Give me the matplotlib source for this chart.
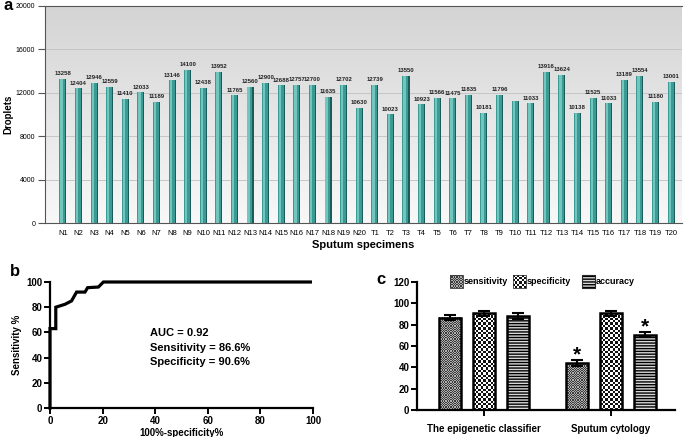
import matplotlib.pyplot as plt
import numpy as np
from matplotlib.colors import LinearSegmentedColormap, ListedColormap

plt.rcParams['font.family'] = ['Liberation Sans', 'DejaVu Sans']

# ---- data ----
specimens = ['N%d' % i for i in range(1, 21)] + ['T%d' % i for i in range(1, 21)]
droplets = [13258, 12404, 12946, 12559, 11410, 12033, 11189, 13146, 14100, 12438,
            13952, 11765, 12560, 12900, 12688, 12757, 12700, 11635, 12702, 10630,
            12739, 10023, 13550, 10923, 11566, 11475, 11835, 10181, 11796, 11250,
            11033, 13916, 13624, 10138, 11525, 11033, 13189, 13554, 11180, 13001]
bar_labels = [str(v) for v in droplets]
bar_labels[29] = ''  # T10 has no printed value

fpr = [0, 0, 2.2, 2.2, 5.7, 8.2, 10.1, 13.3, 14.3, 18.4, 20.3, 99]
tpr = [0, 63, 63, 80, 82.3, 85, 92, 92, 95.5, 96, 100, 100]
roc_text = ['AUC = 0.92', 'Sensitivity = 86.6%', 'Specificity = 90.6%']

groups = ['The epigenetic classifier', 'Sputum cytology']
metrics = ['sensitivity', 'specificity', 'accuracy']
sensitivity = [86.6, 44.0]
specificity = [90.6, 90.6]
accuracy = [88.0, 70.5]
err = [2.5, 2.5]
significant = [[False, False, False], [True, False, True]]

fig = plt.figure(figsize=(6.85, 4.37), dpi=100)

# ---- panel a ----
axa = fig.add_axes([45/685, 1-223/437, 637/685, 217/437])
bg = LinearSegmentedColormap.from_list('bg', ['#d4d4d4', '#f8f8f8'])
axa.imshow(np.linspace(0, 1, 200).reshape(-1, 1), cmap=bg, extent=[0, 1, 0, 1],
           transform=axa.transAxes, aspect='auto', zorder=0)
x = np.arange(len(specimens))
axa.bar(x, droplets, width=0.45, color='#3a9a94', zorder=2)
axa.bar(x - 0.09, droplets, width=0.15, color='#72c6be', zorder=3)
axa.bar(x + 0.19, droplets, width=0.07, color='#1c5c58', zorder=3)
for xi, v, lab in zip(x, droplets, bar_labels):
    axa.text(xi, v + 250, lab, ha='center', va='bottom', fontsize=4.3,
             fontweight='bold', color='#222222', zorder=4)
axa.set_xlim(-1.15, 39.7)
axa.set_ylim(0, 20000)
axa.set_yticks(range(0, 20001, 4000))
axa.set_xticks(x)
axa.set_xticklabels(specimens)
axa.set_xticks([9, 19, 29, 39], minor=True)
axa.tick_params(axis='x', which='major', length=0, labelsize=5.5, pad=5)
axa.tick_params(axis='x', which='minor', length=4, color='#555555')
axa.tick_params(axis='y', labelsize=5, length=5, color='#555555', pad=2)
axa.yaxis.grid(True, color='#c6c6c6', lw=0.7, zorder=1)
axa.xaxis.grid(True, which='minor', color='#c6c6c6', lw=0.7, zorder=1)
axa.set_axisbelow(True)
for s in ['top', 'left', 'bottom']:
    axa.spines[s].set_color('#555555')
axa.spines['right'].set_visible(False)
axa.set_ylabel('Droplets', fontsize=7, fontweight='bold', labelpad=2)
axa.set_xlabel('Sputum specimens', fontsize=8, fontweight='bold', labelpad=2)
fig.text(3/685, 1-6/437, 'a', fontsize=12, fontweight='bold', va='center')

# ---- panel b ----
axb = fig.add_axes([50/685, 1-408/437, 263/685, 126/437])
axb.plot(fpr, tpr, color='black', lw=2.3, clip_on=False, solid_joinstyle='miter')
axb.set_xlim(0, 100)
axb.set_ylim(0, 100)
axb.set_xticks(range(0, 101, 20))
axb.set_yticks(range(0, 101, 20))
for s in ['top', 'right']:
    axb.spines[s].set_visible(False)
for s in ['left', 'bottom']:
    axb.spines[s].set_linewidth(1.6)
axb.tick_params(width=1.4, length=4, labelsize=7, pad=1.5)
for lab in axb.get_xticklabels() + axb.get_yticklabels():
    lab.set_fontweight('bold')
axb.set_xlabel('100%-specificity%', fontsize=7, fontweight='bold', labelpad=2)
axb.set_ylabel('Sensitivity %', fontsize=7, fontweight='bold', labelpad=3)
for i, t in enumerate(roc_text):
    axb.text(38, 59.5 - 11.5 * i, t, fontsize=8, fontweight='bold', va='center')
fig.text(10/685, 1-272/437, 'b', fontsize=12, fontweight='bold', va='center')

# ---- panel c ----
axc = fig.add_axes([417/685, 1-410/437, 258/685, 128/437])
gx = np.arange(len(groups))
offsets = [-0.268, 0, 0.268]
w = 0.18
checker_fine = ListedColormap(['#3a3a3a', '#b0b0b0'])
checker_coarse = ListedColormap(['#111111', '#ffffff'])


def checker(ax, x0, y0, wd, ht, nx, ny, cmap, clip=None):
    grid = (np.add.outer(np.arange(ny), np.arange(nx)) % 2)
    im = ax.imshow(grid, cmap=cmap, extent=[x0, x0 + wd, y0, y0 + ht],
                   aspect='auto', interpolation='nearest', zorder=2, clip_on=False)
    if clip is not None:
        im.set_clip_path(clip)
    return im


series = [sensitivity, specificity, accuracy]
for k, vals in enumerate(series):
    bars = axc.bar(gx + offsets[k], vals, width=w, yerr=err,
                   facecolor='white' if k < 2 else '#d8d8d8',
                   edgecolor='black', lw=1.8, zorder=3,
                   hatch='------' if k == 2 else None,
                   error_kw=dict(ecolor='black', elinewidth=1.5, capsize=4, capthick=1.5, zorder=4))
    for b in bars:
        if k == 0:
            b.set_facecolor('none')
            checker(axc, b.get_x(), 0, b.get_width(), b.get_height(),
                    18, int(b.get_height() / 1.1), checker_fine, clip=b)
        elif k == 1:
            b.set_facecolor('none')
            checker(axc, b.get_x(), 0, b.get_width(), b.get_height(),
                    9, int(b.get_height() / 2.2), checker_coarse, clip=b)
    for gi, v in enumerate(vals):
        if significant[gi][k]:
            axc.text(gx[gi] + offsets[k], v + err[gi] + 5, '*', ha='center',
                     va='center', fontsize=15, fontweight='bold')

axc.set_xlim(-0.528, 1.504)
axc.set_ylim(0, 120)
axc.set_yticks(range(0, 121, 20))
axc.set_xticks(gx)
axc.set_xticklabels(groups)
for s in ['top', 'right']:
    axc.spines[s].set_visible(False)
for s in ['left', 'bottom']:
    axc.spines[s].set_linewidth(1.6)
axc.tick_params(width=1.4, length=4, labelsize=7, pad=1.5)
axc.tick_params(axis='x', pad=6)
for lab in axc.get_xticklabels() + axc.get_yticklabels():
    lab.set_fontweight('bold')

# legend swatches drawn above the plot area
sw_x = [-0.268, 0.228, 0.772]
sw_w, sw_y, sw_h = 0.1, 114.5, 12
for k, name in enumerate(metrics):
    if k == 0:
        checker(axc, sw_x[k], sw_y, sw_w, sw_h, 10, 10, checker_fine)
    elif k == 1:
        checker(axc, sw_x[k], sw_y, sw_w, sw_h, 6, 6, checker_coarse)
    else:
        axc.add_patch(plt.Rectangle((sw_x[k], sw_y), sw_w, sw_h, facecolor='#d8d8d8',
                                    hatch='------', edgecolor='black', lw=0.8, clip_on=False))
    axc.add_patch(plt.Rectangle((sw_x[k], sw_y), sw_w, sw_h, facecolor='none',
                                edgecolor='#333333', lw=0.6, clip_on=False, zorder=3))
    axc.text(sw_x[k] + sw_w + 0.01, sw_y + sw_h / 2, name, fontsize=6.5,
             fontweight='bold', va='center')
fig.text(376/685, 1-280/437, 'c', fontsize=12, fontweight='bold', va='center')

plt.savefig('out.png', dpi=100)
